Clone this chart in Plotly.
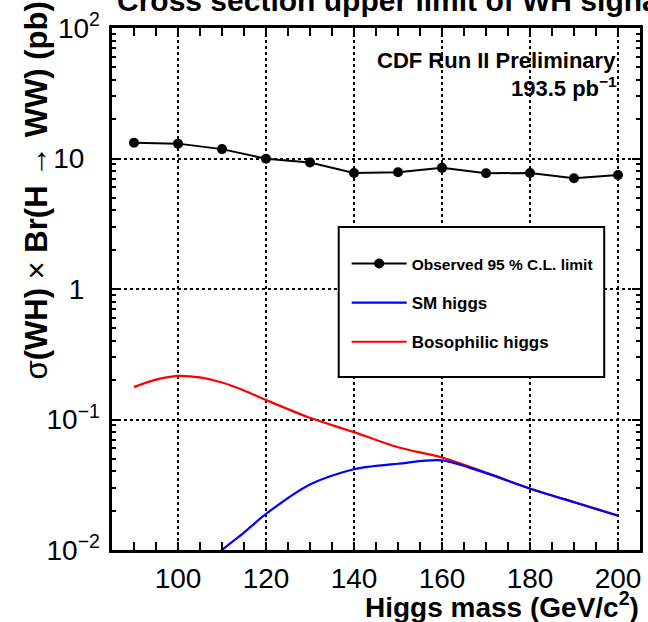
import plotly.graph_objects as go

# Higgs mass points (GeV/c^2) and observed 95% C.L. upper limits (pb)
mass_obs = [90, 100, 110, 120, 130, 140, 150, 160, 170, 180, 190, 200]
limit_obs = [13.2, 13.0, 11.8, 9.96, 9.33, 7.75, 7.84, 8.48, 7.70, 7.75, 7.05, 7.48]

# Bosophilic Higgs expectation, sigma(WH) x Br(H->WW)
mass_boso = [90, 95, 100, 105, 110, 115, 120, 130, 140, 150, 160, 170, 180, 190, 200]
xs_boso = [0.177, 0.202, 0.216, 0.210, 0.192, 0.167, 0.141, 0.103, 0.080, 0.0613,
           0.0512, 0.0392, 0.0296, 0.0233, 0.0184]

# Standard Model Higgs expectation, sigma(WH) x Br(H->WW)
mass_sm = [105, 110, 115, 120, 130, 140, 150, 160, 170, 180, 190, 200]
xs_sm = [0.0068, 0.0100, 0.0136, 0.0189, 0.0318, 0.0416, 0.0458, 0.0486,
         0.0388, 0.0295, 0.0232, 0.0183]

# y-axis decade labels: plain numbers and powers of ten are set on two
# overlaid axes (same log range) so that the bases of all labels line up
y_plain_vals = [1, 10]
y_plain_text = ["1", "10"]
y_power_vals = [0.01, 0.1, 100]
y_power_text = ["10<sup>−2</sup>", "10<sup>−1</sup>", "10<sup>2</sup>"]
y_decades = [0.01, 0.1, 1, 10, 100]

FONT = "Liberation Sans, Arial, sans-serif"

fig = go.Figure()

fig.add_trace(go.Scatter(
    x=mass_boso, y=xs_boso, mode="lines", name="<b>Bosophilic higgs</b>",
    line=dict(color="#ff0000", width=2.2, shape="spline", smoothing=1.0),
    legendgroup="boso", legendrank=3,
))
# blue drawn after red so it sits on top where the curves merge
fig.add_trace(go.Scatter(
    x=mass_sm, y=xs_sm, mode="lines", name="<b>SM higgs</b>",
    line=dict(color="#0000ff", width=2.2, shape="spline", smoothing=0.8),
    legendgroup="sm", legendrank=2,
))
fig.add_trace(go.Scatter(
    x=mass_obs, y=limit_obs, mode="lines+markers", yaxis="y2",
    name="<span style='font-size:15.5px'><b>Observed 95 % C.L. limit</b></span>",
    line=dict(color="black", width=2),
    marker=dict(color="black", size=10, symbol="circle"),
    legendgroup="obs", legendrank=1,
))

minor_y = [m * 10.0 ** e for e in range(-2, 2) for m in range(2, 10)]
tick_font = dict(family=FONT, size=28, color="black")

fig.update_xaxes(
    range=[85, 205], tick0=100, dtick=20,
    showline=True, linewidth=3, linecolor="black", mirror="allticks",
    ticks="inside", ticklen=8, tickwidth=2, tickcolor="black",
    tickfont=tick_font, ticklabelstandoff=1,
    showgrid=True, gridcolor="black", gridwidth=2, griddash="dot",
    minor=dict(dtick=5, tick0=85, ticks="inside", ticklen=4, tickwidth=2,
               tickcolor="black", showgrid=False),
    zeroline=False,
)

fig.update_layout(
    yaxis=dict(
        type="log", range=[-2, 2],
        tickvals=y_decades,
        ticktext=[y_plain_text[y_plain_vals.index(v)] if v in y_plain_vals else ""
                  for v in y_decades],
        showline=True, linewidth=3, linecolor="black", mirror="allticks",
        ticks="inside", ticklen=8, tickwidth=2, tickcolor="black",
        tickfont=tick_font, ticklabelstandoff=19,
        showgrid=True, gridcolor="black", gridwidth=2, griddash="dot",
        minor=dict(tickvals=minor_y, ticks="inside", ticklen=4, tickwidth=2,
                   tickcolor="black", showgrid=False),
        zeroline=False,
    ),
    yaxis2=dict(
        type="log", range=[-2, 2], overlaying="y", side="left",
        tickvals=y_power_vals, ticktext=y_power_text,
        ticks="", showline=False, showgrid=False, zeroline=False,
        tickfont=tick_font, ticklabelstandoff=11,
    ),
)

W, H = 648, 622
L, R, T, B = 112, 5, 28, 72
pw, ph = W - L - R, H - T - B


def px(x):
    return (x - L) / pw


def py(y):
    return 1 - (y - T) / ph


# legend frame
fig.add_shape(type="rect", xref="paper", yref="paper",
              x0=px(340), x1=px(607), y0=py(377), y1=py(227),
              line=dict(color="black", width=2), fillcolor="white", layer="above")

annotations = [
    dict(text="<b>Cross section upper limit of WH signal</b>",
         x=px(115), y=py(19), xanchor="left", yanchor="bottom",
         font=dict(family=FONT, size=30, color="black")),
    dict(text="<b>CDF Run II Preliminary</b>",
         x=px(621), y=py(61), xanchor="right", yanchor="middle",
         font=dict(family=FONT, size=22, color="black")),
    dict(text="<b>193.5 pb<sup>−1</sup></b>",
         x=px(622), y=py(87), xanchor="right", yanchor="middle",
         font=dict(family=FONT, size=22, color="black")),
    dict(text="σ<b>(WH)</b> × <b>Br(H</b> → <b>WW) (pb)</b>",
         x=px(36), y=py(381), xanchor="center", yanchor="bottom", textangle=-90,
         font=dict(family=FONT, size=31, color="black")),
    dict(text="<b>Higgs mass (GeV/c<sup>2</sup>)</b>",
         x=px(644), y=py(605), xanchor="right", yanchor="middle",
         font=dict(family=FONT, size=28, color="black")),
]
for a in annotations:
    a.update(xref="paper", yref="paper", showarrow=False)
fig.update_layout(annotations=annotations)

fig.update_layout(
    width=W, height=H,
    margin=dict(l=L, r=R, t=T, b=B, pad=0),
    paper_bgcolor="white", plot_bgcolor="white",
    font=dict(family=FONT, color="black"),
    showlegend=True,
    legend=dict(
        x=px(348), y=py(246), xanchor="left", yanchor="top",
        bgcolor="rgba(0,0,0,0)", borderwidth=0,
        font=dict(family=FONT, size=17, color="black"),
        tracegroupgap=14, traceorder="grouped", itemwidth=55,
    ),
)

fig.write_html("out.html")
